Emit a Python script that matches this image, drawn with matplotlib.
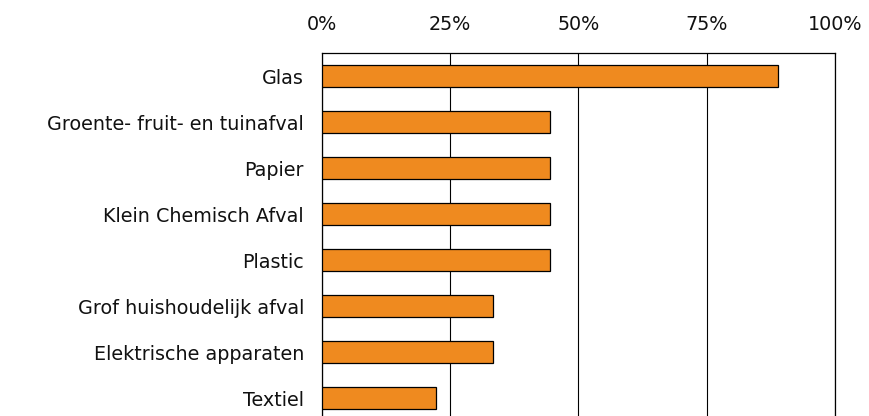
import matplotlib

matplotlib.use("Agg")
import matplotlib.pyplot as plt  # noqa: E402
from matplotlib.ticker import FuncFormatter  # noqa: E402

# share of municipalities per waste stream (%)
CATEGORIES = [
    "Glas",
    "Groente- fruit- en tuinafval",
    "Papier",
    "Klein Chemisch Afval",
    "Plastic",
    "Grof huishoudelijk afval",
    "Elektrische apparaten",
    "Textiel",
]
VALUES = [88.9, 44.4, 44.4, 44.4, 44.4, 33.3, 33.3, 22.2]
TICKS = [0, 25, 50, 75, 100]

BAR_COLOR = "#ef8a1f"


def main() -> None:
    fig = plt.figure(figsize=(8.7, 4.16), dpi=100)
    # axes runs slightly past the bottom edge, as in the original
    ax = fig.add_axes([322 / 870, -5 / 416, 513 / 870, 368 / 416])

    y = range(len(CATEGORIES))
    ax.barh(y, VALUES, height=0.48, color=BAR_COLOR, edgecolor="black",
            linewidth=0.9, zorder=3)

    ax.set_xlim(0, 100)
    ax.set_ylim(len(CATEGORIES) - 0.5, -0.5)
    ax.set_xticks(TICKS)
    ax.xaxis.set_major_formatter(FuncFormatter(lambda v, _: f"{v:.0f}%"))
    ax.xaxis.tick_top()
    ax.set_yticks(list(y))
    ax.set_yticklabels(CATEGORIES)

    # Verdana in the original is wider than DejaVu, so go a touch larger
    ax.tick_params(axis="x", length=0, pad=14, labelsize=13.8, labelcolor="#111111")
    ax.tick_params(axis="y", length=0, pad=13, labelsize=13.8, labelcolor="#111111")
    ax.grid(axis="x", color="black", lw=0.8, zorder=0)

    for side in ("top", "left", "right"):
        ax.spines[side].set_color("black")
        ax.spines[side].set_linewidth(0.9)
    ax.spines["bottom"].set_visible(False)

    fig.savefig("out.png", dpi=100)
    plt.close(fig)


if __name__ == "__main__":
    main()
